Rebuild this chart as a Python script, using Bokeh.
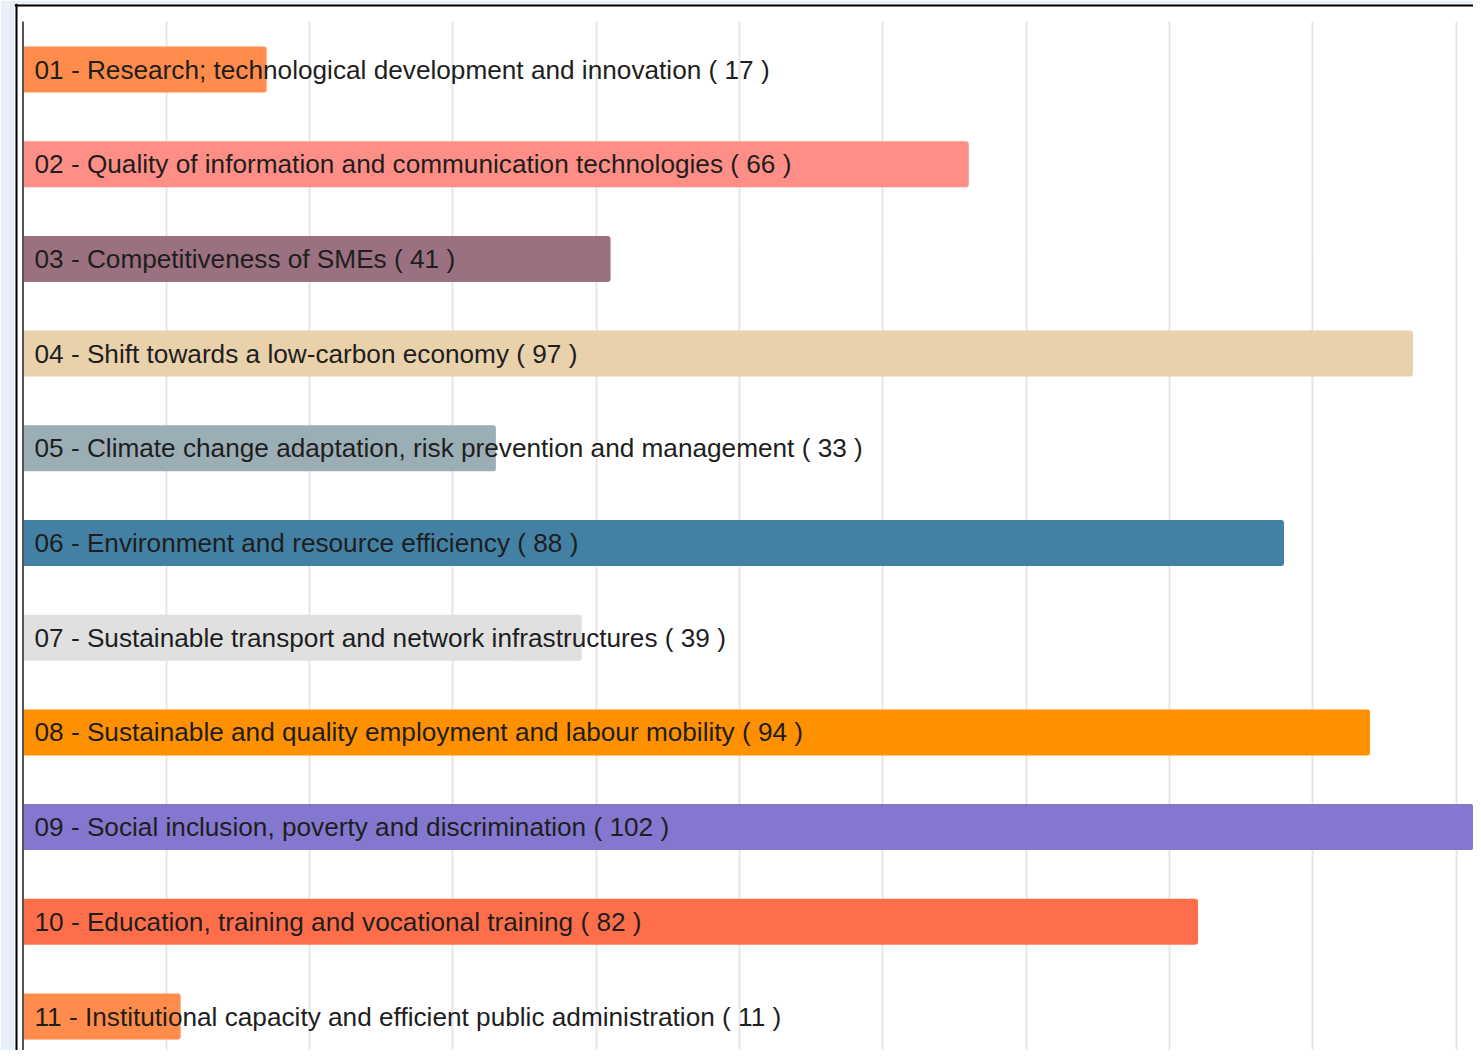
from bokeh.plotting import figure
from bokeh.models import ColumnDataSource, Range1d, FixedTicker, Span, BoxAnnotation
from bokeh.core.properties import value
from bokeh.embed import file_html
from bokeh.resources import INLINE

codes = ["01", "02", "03", "04", "05", "06", "07", "08", "09", "10", "11"]
names = [
    "Research; technological development and innovation",
    "Quality of information and communication technologies",
    "Competitiveness of SMEs",
    "Shift towards a low-carbon economy",
    "Climate change adaptation, risk prevention and management",
    "Environment and resource efficiency",
    "Sustainable transport and network infrastructures",
    "Sustainable and quality employment and labour mobility",
    "Social inclusion, poverty and discrimination",
    "Education, training and vocational training",
    "Institutional capacity and efficient public administration",
]
counts = [17, 66, 41, 97, 33, 88, 39, 94, 102, 82, 11]
colors = ["#FF8C4A", "#FF8F86", "#9B7080", "#E8D1AB", "#9CAEB5", "#4281A4",
          "#E0E0E0", "#FF9000", "#8477CF", "#FF6E4A", "#FF8C4A"]
grid_ticks = [10, 20, 30, 40, 50, 60, 70, 80, 90, 100]

pos = list(range(1, len(codes) + 1))
labels = [f"{c} - {n} ( {v} )" for c, n, v in zip(codes, names, counts)]
src = ColumnDataSource(dict(y=pos, v=counts, c=colors, lab=labels, zero=[0] * len(pos)))

W, H = 1473, 1050
PX_X = 14.33   # pixels per unit (x)
PX_Y = 94.7    # pixels per category (y)
x0 = 22.5      # pixel position of value 0
frame_left = 14
frame_top = 3
first_center = 69
y_top = 1 - (first_center - frame_top) / PX_Y
y_bot = 1 + (H - first_center) / PX_Y

p = figure(width=W, height=H, output_backend="svg", toolbar_location=None,
           x_range=Range1d((frame_left - x0) / PX_X, (W - x0) / PX_X),
           y_range=Range1d(y_bot, y_top),
           min_border_left=frame_left, min_border_right=0,
           min_border_top=frame_top, min_border_bottom=0)
p.border_fill_color = "#E5F0F9"
p.background_fill_color = "white"
p.outline_line_color = None
p.xaxis.visible = False
p.yaxis.visible = False
p.ygrid.grid_line_color = None
p.xgrid.ticker = FixedTicker(ticks=grid_ticks)
p.xgrid.grid_line_color = "#E6E6E6"
p.xgrid.grid_line_width = 2

p.hbar(y="y", left="zero", right="v", height=46 / PX_Y, color="c", source=src,
       line_color=None, border_radius=(0, 3, 3, 0))

p.text(x="zero", y="y", text="lab", source=src, x_offset=11.5,
       text_font=value("Liberation Sans"), text_font_size="26.2px",
       text_color="#1E1E1E", text_baseline="middle", text_align="left")

# axis line at zero
p.add_layout(Span(location=0, dimension="height", line_color="#555555", line_width=2))
# white space at top of the plot box (gridlines start lower)
p.add_layout(BoxAnnotation(top=y_top - 1, bottom=y_top + 18 / PX_Y,
                           fill_color="white", fill_alpha=1, line_color=None))
# blue strip left of the container border
p.add_layout(BoxAnnotation(right=(15 - x0) / PX_X, fill_color="#E5F0F9", fill_alpha=1,
                           line_color=None))
p.add_layout(BoxAnnotation(top=y_top, bottom=y_top + 1.2 / PX_Y, fill_color="#E5F0F9",
                           fill_alpha=1, line_color=None))
# black container border (left and top)
p.add_layout(Span(location=(16 - x0) / PX_X, dimension="height",
                  line_color="black", line_width=2))
p.add_layout(Span(location=y_top + 2 / PX_Y, dimension="width",
                  line_color="black", line_width=2))

open("out.html", "w").write(file_html(p, INLINE))
